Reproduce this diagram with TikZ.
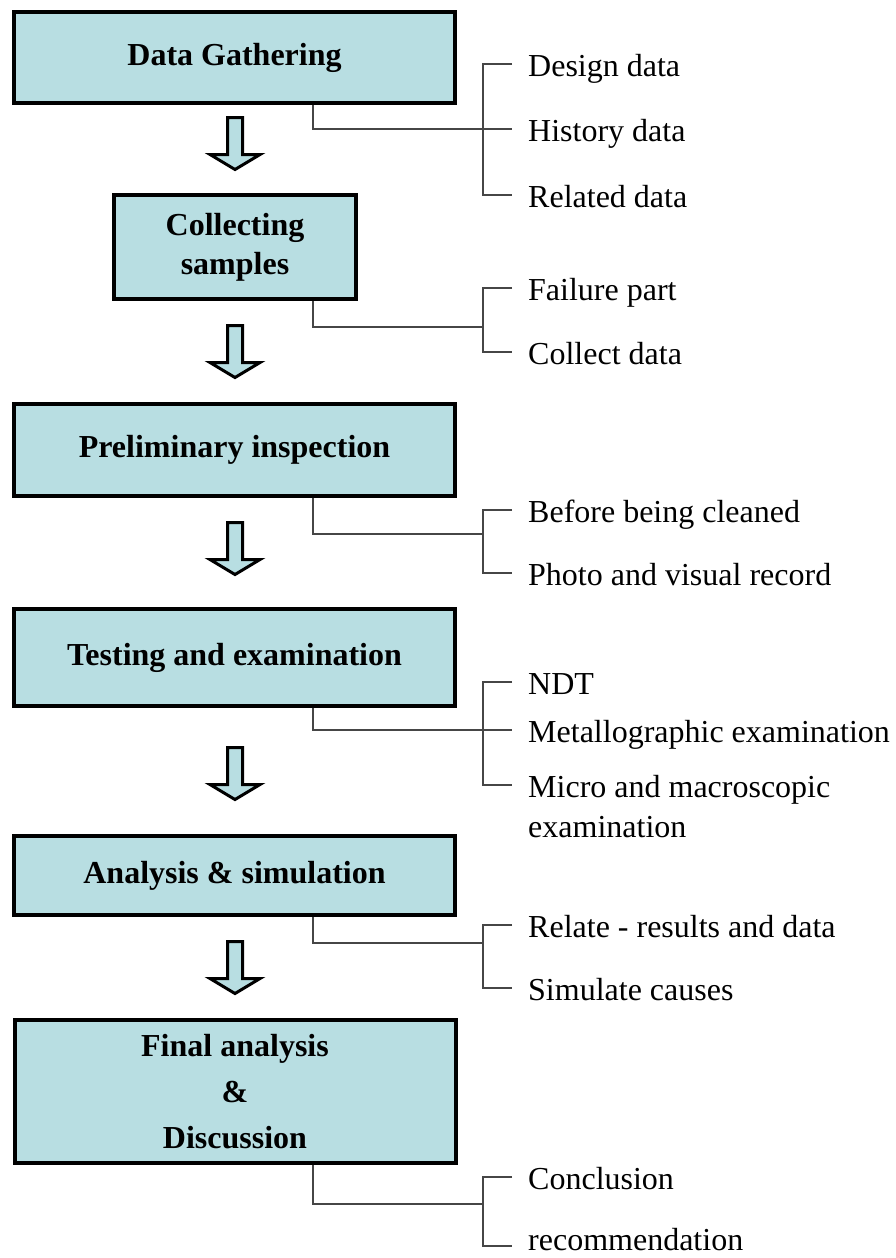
\documentclass[tikz,border=0pt]{standalone}
\usepackage{fontspec}
\setmainfont{Liberation Serif}
\usetikzlibrary{calc}
\definecolor{boxblue}{RGB}{184,222,226}
\definecolor{linkgray}{RGB}{70,70,70}
\newcommand\flowarrow[1]{\draw[flow] #1 ++(-7.5,0) -- ++(0,37) -- ++(-17.5,0) -- ++(25,15) -- ++(25,-15) -- ++(-17.5,0) -- ++(0,-37) -- cycle;}

\tikzset{
  stage/.style={draw, line width=4pt, fill=boxblue, inner sep=0pt, align=center,
    minimum width=441pt, font=\bfseries\fontsize{32}{39}\selectfont},
  item/.style={anchor=base west, inner xsep=16pt, inner ysep=0pt, align=left,
    font=\fontsize{32}{40}\selectfont},
  link/.style={linkgray, line width=1.5pt},
  flow/.style={draw=black, line width=3pt, fill=boxblue, line join=miter}
}

\begin{document}
\begin{tikzpicture}[x=1pt, y=-1pt]
\useasboundingbox (0,0) rectangle (896,1258);

% stages
\node[stage, minimum height=91pt] (b1) at (234.5,57.5) {Data Gathering};
\node[stage, minimum width=242pt, minimum height=104pt] (b2) at (235,247) {Collecting\\samples};
\node[stage, minimum height=92pt] (b3) at (234.5,450) {Preliminary inspection};
\node[stage, minimum height=97pt] (b4) at (234.5,657.5) {Testing and examination};
\node[stage, minimum height=79pt] (b5) at (234.5,875.5) {Analysis \& simulation};
\node[stage, minimum height=143pt, font=\bfseries\fontsize{32}{46}\selectfont] (b6) at (235,1091.5) {Final analysis\\\&\\Discussion};

% arrows between stages
\coordinate (a1) at (235,117.5);
\coordinate (a2) at (235,325.5);
\coordinate (a3) at (235,522.5);
\coordinate (a4) at (235,747.5);
\coordinate (a5) at (235,941.5);
\flowarrow{(a1)}
\flowarrow{(a2)}
\flowarrow{(a3)}
\flowarrow{(a4)}
\flowarrow{(a5)}

% branch 1
\coordinate (h1) at (483,129);
\coordinate (k11) at (483,64);
\coordinate (k13) at (483,195);
\node[item] (t11) at (512,76) {Design data};
\node[item] (t12) at (512,141) {History data};
\node[item] (t13) at (512,207) {Related data};
\draw[link] (b1.south -| 313,0) |- (h1) -- (t12.west |- h1);
\draw[link] (t11.west |- k11) -- (k11) -- (k13) -- (t13.west |- k13);

% branch 2
\coordinate (h2) at (483,327);
\coordinate (k21) at (483,288);
\coordinate (k22) at (483,352);
\node[item] (t21) at (512,300) {Failure part};
\node[item] (t22) at (512,364) {Collect data};
\draw[link] (b2.south -| 313,0) |- (h2);
\draw[link] (t21.west |- k21) -- (k21) -- (k22) -- (t22.west |- k22);

% branch 3
\coordinate (h3) at (483,534);
\coordinate (k31) at (483,510);
\coordinate (k32) at (483,573);
\node[item] (t31) at (512,522) {Before being cleaned};
\node[item] (t32) at (512,585) {Photo and visual record};
\draw[link] (b3.south -| 313,0) |- (h3);
\draw[link] (t31.west |- k31) -- (k31) -- (k32) -- (t32.west |- k32);

% branch 4 (last text has two lines, base is on its second line)
\coordinate (h4) at (483,730);
\coordinate (k41) at (483,682);
\coordinate (k43) at (483,785);
\node[item] (t41) at (512,694) {NDT};
\node[item] (t42) at (512,742) {Metallographic examination};
\node[item] (t43) at (512,837) {Micro and macroscopic\\examination};
\draw[link] (b4.south -| 313,0) |- (h4) -- (t42.west |- h4);
\draw[link] (t41.west |- k41) -- (k41) -- (k43) -- (k43 -| t43.west);

% branch 5
\coordinate (h5) at (483,943);
\coordinate (k51) at (483,925);
\coordinate (k52) at (483,988);
\node[item] (t51) at (512,937) {Relate - results and data};
\node[item] (t52) at (512,1000) {Simulate causes};
\draw[link] (b5.south -| 313,0) |- (h5);
\draw[link] (t51.west |- k51) -- (k51) -- (k52) -- (t52.west |- k52);

% branch 6
\coordinate (h6) at (483,1204);
\coordinate (k61) at (483,1177);
\coordinate (k62) at (483,1246);
\node[item] (t61) at (512,1189) {Conclusion};
\node[item] (t62) at (512,1250) {recommendation};
\draw[link] (b6.south -| 313,0) |- (h6);
\draw[link] (t61.west |- k61) -- (k61) -- (k62) -- (t62.west |- k62);

\end{tikzpicture}
\end{document}
